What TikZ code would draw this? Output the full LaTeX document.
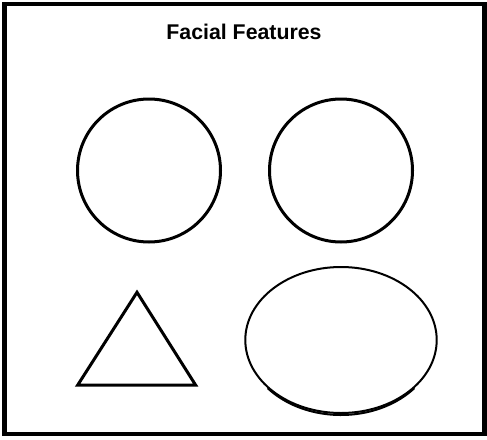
\documentclass[tikz,border=0pt]{standalone}
\usepackage{fontspec}
\setmainfont{Liberation Sans}
\usepackage{xcolor}
\usepackage{tikz}
\definecolor{faceink}{HTML}{000000}
\tikzset{
  frameline/.style={draw=faceink,line width=4.5pt},
  featureline/.style={draw=faceink,line width=3pt},
  mouthline/.style={draw=faceink,line width=2pt}
}

\begin{document}
\begin{tikzpicture}[x=1pt,y=-1pt]
      \useasboundingbox (0,0) rectangle (487,439);
      \draw[frameline,fill=white] (4.5,4.2) rectangle (484.5,434.2);
      \node[font=\bfseries\fontsize{21.3}{25}\selectfont,anchor=base] (title) at (244,39.3) {Facial Features};
      \draw[featureline] (149,170.5) circle[radius=71.5];   % left eye
      \draw[featureline] (341,170.5) circle[radius=71.5];   % right eye
      \draw[featureline,line join=miter] (137,292.3) -- (77.6,385.2) -- (195.7,385.2) -- cycle; % nose
      \draw[mouthline] (341,340) ellipse[x radius=95.7,y radius=73]; % mouth
      \draw[mouthline,line width=2pt] (341,340) ++(40:95.7 and 75) arc[start angle=40,end angle=140,x radius=95.7,y radius=75];
    \end{tikzpicture}
\end{document}
